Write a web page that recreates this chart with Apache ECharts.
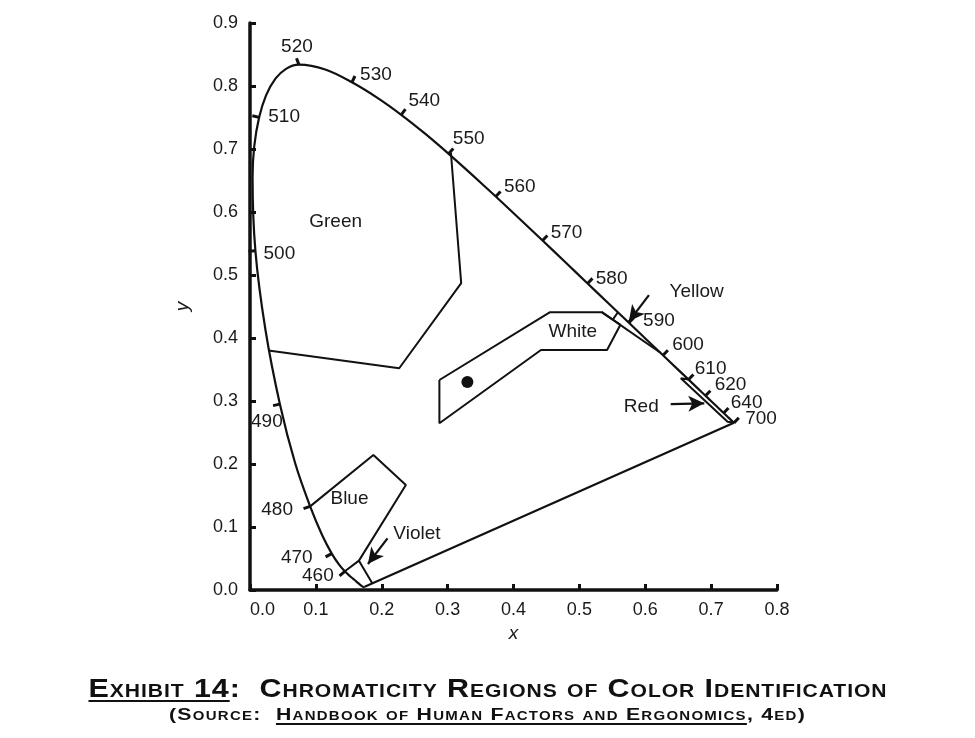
<!DOCTYPE html>
<html>
<head>
<meta charset="utf-8">
<script src="https://cdn.jsdelivr.net/npm/echarts@6.0.0/dist/echarts.min.js"></script>
<style>
  html, body { margin: 0; padding: 0; background: #fff; }
  #wrap { position: relative; width: 975px; height: 738px; }
  #chart { position: absolute; left: 0; top: 0; width: 975px; height: 738px; }
  #caption { position: absolute; left: 0; top: 674px; width: 975px; text-align: center;
    font-family: "Liberation Sans", sans-serif; font-variant: small-caps; color: #111; }
  #caption .t1 { font-size: 26px; font-weight: bold; line-height: 28px; letter-spacing: 0.8px; }
  #caption .t2 { font-size: 17px; font-weight: bold; line-height: 20px; margin-top: 3px; letter-spacing: 1px; }
  #caption span { display: inline-block; white-space: nowrap; transform-origin: 50% 50%; }
  #caption u { text-decoration-thickness: 2px; text-underline-offset: 3px; }
</style>
</head>
<body>
<div id="wrap">
  <div id="chart"></div>
  <div id="caption">
    <div class="t1"><span id="cap1"><u>Exhibit 14</u>:&nbsp; Chromaticity Regions of Color Identification</span></div>
    <div class="t2"><span id="cap2">(Source:&nbsp; <u>Handbook of Human Factors and Ergonomics</u>, 4ed)</span></div>
  </div>
</div>
<script>
// spectral locus, 5 nm steps
var wavelengths = [380,385,390,395,400,405,410,415,420,425,430,435,440,445,450,455,460,465,470,475,
  480,485,490,495,500,505,510,515,520,525,530,535,540,545,550,555,560,565,570,575,
  580,585,590,595,600,605,610,615,620,625,630,635,640,645,650,655,660,665,670,675,
  680,685,690,695,700];
var locusX = [0.1741,0.1740,0.1738,0.1736,0.1733,0.1730,0.1726,0.1721,0.1714,0.1703,0.1689,0.1669,0.1644,0.1611,0.1566,0.1510,0.1440,0.1355,0.1241,0.1096,
  0.0913,0.0687,0.0454,0.0235,0.0082,0.0039,0.0139,0.0389,0.0743,0.1142,0.1547,0.1929,0.2296,0.2658,0.3016,0.3373,0.3731,0.4087,0.4441,0.4788,
  0.5125,0.5448,0.5752,0.6029,0.6270,0.6482,0.6658,0.6801,0.6915,0.7006,0.7079,0.7140,0.7190,0.7230,0.7260,0.7283,0.7300,0.7311,0.7320,0.7327,
  0.7334,0.7340,0.7344,0.7346,0.7347];
var locusY = [0.0050,0.0050,0.0049,0.0049,0.0048,0.0048,0.0048,0.0048,0.0051,0.0058,0.0069,0.0086,0.0109,0.0138,0.0177,0.0227,0.0297,0.0399,0.0578,0.0868,
  0.1327,0.2007,0.2950,0.4127,0.5384,0.6548,0.7502,0.8120,0.8338,0.8262,0.8059,0.7816,0.7543,0.7243,0.6923,0.6589,0.6245,0.5896,0.5547,0.5202,
  0.4866,0.4544,0.4242,0.3965,0.3725,0.3514,0.3340,0.3197,0.3083,0.2993,0.2920,0.2859,0.2809,0.2770,0.2740,0.2717,0.2700,0.2689,0.2680,0.2673,
  0.2666,0.2660,0.2656,0.2654,0.2653];
var markedWl = [460,470,480,490,500,510,520,530,540,550,560,570,580,590,600,610,620,640,700];

// region boundaries
var greenEdge = [[0.305,0.694],[0.3206,0.487],[0.2265,0.352],[0.028,0.380]];
var whiteEdge = [[0.2875,0.3333],[0.4555,0.441],[0.534,0.441],[0.5623,0.421],[0.542,0.381],[0.4417,0.381],[0.2875,0.2646],[0.2875,0.3333]];
var yellowEdge = [[0.534,0.441],[0.6225,0.377]];
var yellowEnd = [[0.5507,0.4292],[0.5585,0.4408]];
var redEdge = [[0.6658,0.334],[0.654,0.336],[0.725,0.267],[0.7347,0.2653]];
var blueEdge = [[0.0913,0.1327],[0.1873,0.2143],[0.2366,0.1667],[0.1654,0.0466]];
var violetEdge = [[0.144,0.0297],[0.1654,0.0466],[0.1858,0.0104]];
var whitePoint = [0.33,0.33];

var regionNames = ['Green','White','Blue','Violet','Yellow','Red'];
var regionX = [0.130,0.490,0.151,0.2534,0.678,0.594];
var regionY = [0.584,0.4095,0.1444,0.0889,0.473,0.2905];

var arrowFrom = [[0.6056,0.468],[0.6387,0.295],[0.2087,0.082]];
var arrowTo = [[0.575,0.426],[0.6896,0.2963],[0.179,0.0413]];

var xTicks = [0,0.1,0.2,0.3,0.4,0.5,0.6,0.7,0.8];
var yTicks = [0,0.1,0.2,0.3,0.4,0.5,0.6,0.7,0.8,0.9];

// where each wavelength label sits relative to its point (px)
var wlLabelOffset = {460:[-27,4],470:[-35,4],480:[-33,3],490:[-13,18],500:[24,3],510:[25,-1],
  520:[-2,-18],530:[24,-8],540:[23,-14],550:[20,-15],560:[24,-10],570:[24,-8],580:[24,-5],
  590:[30,-2],600:[25,-11],610:[22,-11],620:[25,-11],640:[23,-10],700:[27,-4]};

var FONT = '"Liberation Sans", Arial, sans-serif';
var INK = '#111';

var chart = echarts.init(document.getElementById('chart'), null, {renderer: 'canvas'});

var locus = wavelengths.map(function (w, i) { return [locusX[i], locusY[i]]; });
var purpleLine = [[locusX[0], locusY[0]], [locusX[locusX.length - 1], locusY[locusY.length - 1]]];

var tickData = markedWl.map(function (w) {
  var i = wavelengths.indexOf(w);
  var a = Math.max(i - 2, 0), b = Math.min(i + 2, wavelengths.length - 1);
  return [locusX[i], locusY[i], w, locusX[a], locusY[a], locusX[b], locusY[b]];
});

function renderTick(params, api) {
  var p = api.coord([api.value(0), api.value(1)]);
  var a = api.coord([api.value(3), api.value(4)]);
  var b = api.coord([api.value(5), api.value(6)]);
  var c = api.coord(whitePoint);
  var tx = b[0] - a[0], ty = b[1] - a[1];
  var len = Math.sqrt(tx * tx + ty * ty) || 1;
  var nx = -ty / len, ny = tx / len;
  if (nx * (p[0] - c[0]) + ny * (p[1] - c[1]) < 0) { nx = -nx; ny = -ny; }
  var off = wlLabelOffset[api.value(2)] || [20, 0];
  return {
    type: 'group',
    children: [
      {type: 'line', shape: {x1: p[0], y1: p[1], x2: p[0] + nx * 7, y2: p[1] + ny * 7},
        style: {stroke: INK, lineWidth: 3}},
      {type: 'text', x: p[0] + off[0], y: p[1] + off[1],
        style: {text: String(api.value(2)), fill: '#1a1a1a', font: '19px ' + FONT,
          align: 'center', verticalAlign: 'middle'}}
    ]
  };
}

function renderRegionLabel(params, api) {
  var p = api.coord([api.value(0), api.value(1)]);
  return {type: 'text', x: p[0], y: p[1],
    style: {text: regionNames[params.dataIndex], fill: '#1a1a1a', font: '19px ' + FONT,
      align: 'center', verticalAlign: 'middle'}};
}

function edge(data) {
  return {type: 'line', data: data, symbol: 'none', silent: true, z: 3,
    lineStyle: {color: INK, width: 2}};
}

var option = {
  animation: false,
  backgroundColor: '#fff',
  grid: {left: 250, right: 198, top: 23, bottom: 148},
  xAxis: {
    type: 'value', min: xTicks[0], max: xTicks[xTicks.length - 1], interval: 0.1,
    name: 'x', nameLocation: 'middle', nameGap: 34,
    nameTextStyle: {fontStyle: 'italic', fontSize: 19, color: '#1a1a1a', fontFamily: FONT},
    axisLine: {lineStyle: {color: INK, width: 3.5}},
    axisTick: {inside: true, length: 6, lineStyle: {color: INK, width: 3}},
    axisLabel: {fontSize: 18, color: '#1a1a1a', fontFamily: FONT, margin: 11, alignMinLabel: 'left',
      formatter: function (v) { return v.toFixed(1); }},
    splitLine: {show: false}
  },
  yAxis: {
    type: 'value', min: yTicks[0], max: yTicks[yTicks.length - 1], interval: 0.1,
    name: 'y', nameLocation: 'middle', nameGap: 58,
    nameTextStyle: {fontStyle: 'italic', fontSize: 19, color: '#1a1a1a', fontFamily: FONT},
    axisLine: {lineStyle: {color: INK, width: 3.5}},
    axisTick: {inside: true, length: 6, lineStyle: {color: INK, width: 3}},
    axisLabel: {fontSize: 18, color: '#1a1a1a', fontFamily: FONT, margin: 12,
      formatter: function (v) { return v.toFixed(1); }},
    splitLine: {show: false}
  },
  series: [
    {type: 'line', data: locus, symbol: 'none', silent: true, z: 4, smooth: 0.35,
      lineStyle: {color: INK, width: 2.2}},
    {type: 'line', data: purpleLine, symbol: 'none', silent: true, z: 4,
      lineStyle: {color: INK, width: 2.2}},
    edge(greenEdge),
    edge(whiteEdge),
    edge(yellowEdge),
    edge(yellowEnd),
    edge(redEdge),
    edge(blueEdge),
    edge(violetEdge),
    {type: 'scatter', data: [whitePoint], symbolSize: 12, silent: true, z: 5,
      itemStyle: {color: INK, opacity: 1}},
    {type: 'custom', renderItem: renderRegionLabel, silent: true, z: 6,
      data: regionNames.map(function (n, i) { return [regionX[i], regionY[i]]; })},
    {type: 'line', data: [], silent: true, z: 6,
      markLine: {silent: true, symbol: ['none', 'arrow'], symbolSize: [12, 16], animation: false,
        label: {show: false},
        lineStyle: {color: INK, width: 2.2, type: 'solid', opacity: 1},
        itemStyle: {color: INK},
        emphasis: {disabled: true},
        data: arrowFrom.map(function (f, i) { return [{coord: f}, {coord: arrowTo[i]}]; })}},
    {type: 'custom', renderItem: renderTick, data: tickData, silent: true, z: 7}
  ]
};
chart.setOption(option);

// widen the caption lines to the width they have in the figure
function fitWidth(el, target) {
  var w = el.getBoundingClientRect().width;
  el.style.transform = 'scaleX(' + (target / w).toFixed(4) + ')';
}
fitWidth(document.getElementById('cap1'), 799);
fitWidth(document.getElementById('cap2'), 637);
</script>
</body>
</html>
